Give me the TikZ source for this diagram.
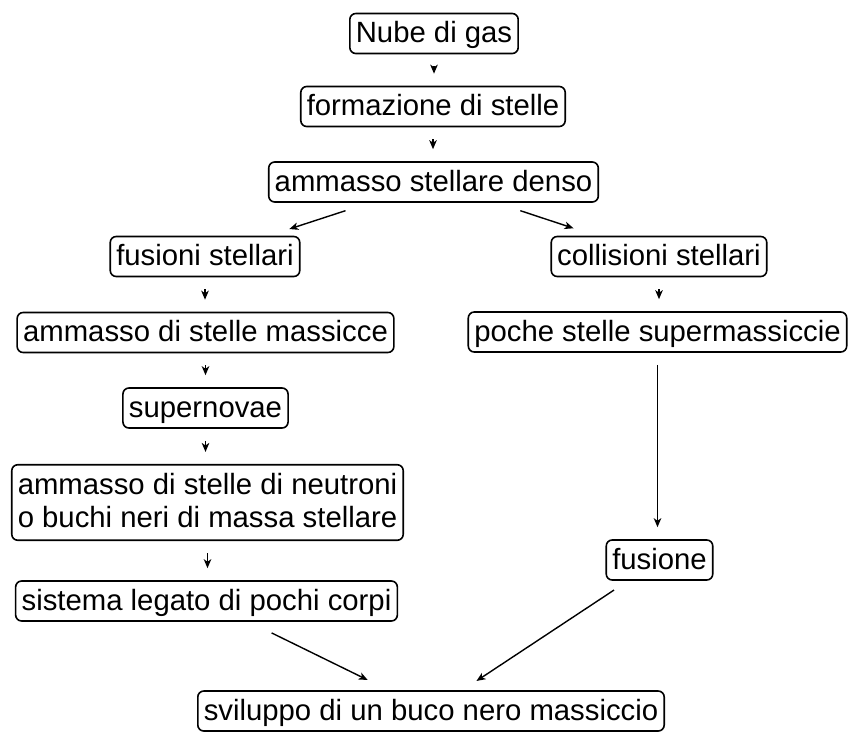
\documentclass[tikz,border=0pt]{standalone}
\usepackage{fontspec}
\setmainfont{Liberation Sans}
\usetikzlibrary{arrows.meta,calc}
\begin{document}
\begin{tikzpicture}[x=1pt,y=-1pt,
  box/.style={draw, line width=1.6pt, rounded corners=6pt, inner xsep=6pt, inner ysep=5pt,
    text height=24pt, text depth=6pt, font=\fontsize{29.3pt}{33pt}\selectfont},
  arr/.style={line width=1.4pt, -{Stealth[length=9pt,width=7.5pt,inset=2.5pt]}},
  varr/.style={arr, shorten <=12pt, shorten >=12pt}]
\useasboundingbox (0,0) rectangle (849,734);
\node[box] (n1) at (434,33.5) {Nube di gas};
\node[box] (n2) at (433,106.5) {formazione di stelle};
\node[box] (n3) at (433.5,182) {ammasso stellare denso};
\node[box] (n4) at (205,256.5) {fusioni stellari};
\node[box] (n5) at (659,256.5) {collisioni stellari};
\node[box] (n6) at (205.5,332.5) {ammasso di stelle massicce};
\node[box] (n7) at (657.5,332) {poche stelle supermassiccie};
\node[box] (n8) at (205.5,408) {supernovae};
\node[box, align=center, text height=58pt, text depth=7.5pt] (n9) at (207.5,502.5) {ammasso di stelle di neutroni\\o buchi neri di massa stellare};
\node[box] (n10) at (659.5,560) {fusione};
\node[box] (n11) at (206.5,601) {sistema legato di pochi corpi};
\node[box] (n12) at (431,711) {sviluppo di un buco nero massiccio};
\draw[varr] (n1.south) -- (n1.south |- n2.north);
\draw[varr] (n2.south) -- (n2.south |- n3.north);
\draw[varr] (n4.south) -- (n4.south |- n6.north);
\draw[varr] (n6.south) -- (n6.south |- n8.north);
\draw[varr] (n8.south) -- (n8.south |- n9.north);
\draw[varr] (n9.south) -- (n9.south |- n11.north);
\draw[varr] (n5.south) -- (n5.south |- n7.north);
\draw[varr] (n7.south) -- (n7.south |- n10.north);
\draw[arr] ($(n3)!0.385!(n4)$) -- ($(n3)!0.631!(n4)$);
\draw[arr] ($(n3)!0.385!(n5)$) -- ($(n3)!0.621!(n5)$);
\draw[arr] ($(n11)!0.29!(n12)$) -- ($(n11)!0.718!(n12)$);
\draw[arr] ($(n10)!0.199!(n12)$) -- ($(n10)!0.801!(n12)$);
\end{tikzpicture}
\end{document}
